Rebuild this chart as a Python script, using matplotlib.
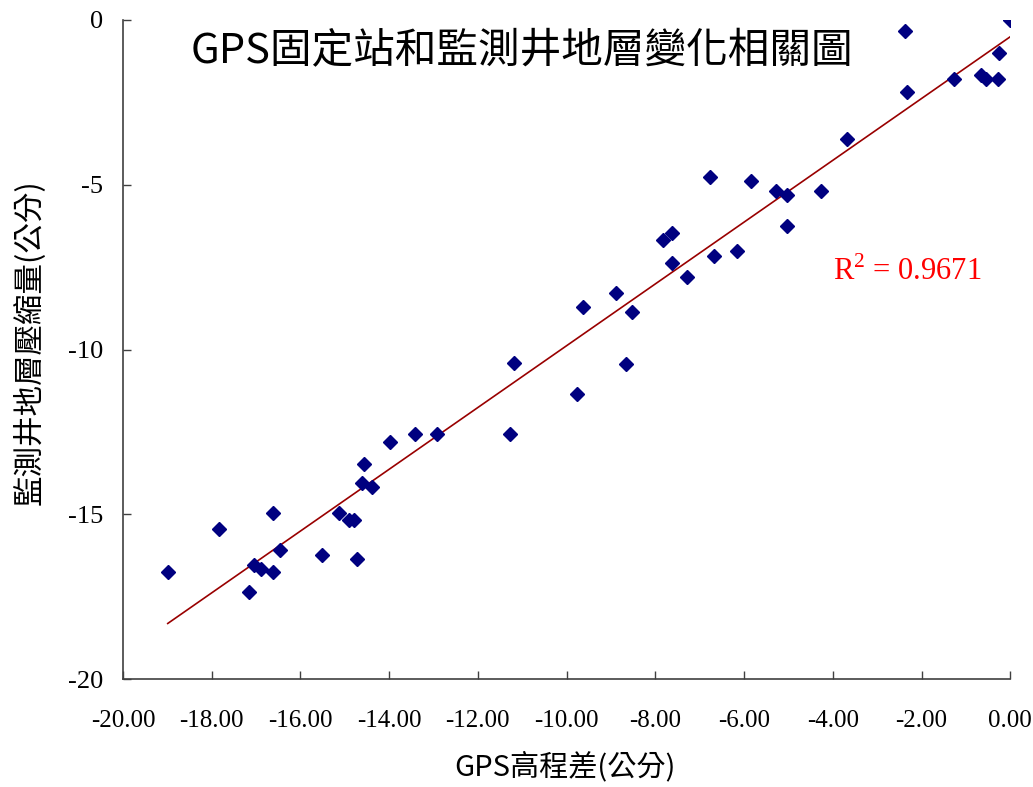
import numpy as np
import matplotlib
matplotlib.use('Agg')
import matplotlib.pyplot as plt

# GPS高程差 (公分)
gps_diff = [-18.99, -17.84, -17.16, -17.05, -16.89, -16.62, -16.62, -16.46, -15.51, -15.13,
            -14.90, -14.79, -14.72, -14.57, -14.61, -14.39, -13.98, -13.42, -12.92, -11.27,
            -11.18, -9.76, -9.63, -8.88, -8.66, -8.52, -7.82, -7.62, -7.62, -7.28,
            -6.76, -6.67, -6.16, -5.84, -5.28, -5.03, -5.03, -4.26, -3.68, -2.37,
            -2.32, -1.26, -0.65, -0.54, -0.27, -0.25, 0.00]
# 監測井地層壓縮量 (公分)
compaction = [-16.75, -15.45, -17.36, -16.54, -16.66, -14.96, -16.75, -16.08, -16.24, -14.96,
              -15.17, -15.17, -16.36, -13.47, -14.05, -14.17, -12.81, -12.56, -12.56, -12.56,
              -10.41, -11.35, -8.71, -8.29, -10.44, -8.86, -6.68, -6.46, -7.37, -7.80,
              -4.76, -7.16, -7.01, -4.89, -5.19, -5.31, -6.25, -5.19, -3.61, -0.33,
              -2.19, -1.79, -1.67, -1.79, -1.79, -1.00, 0.00]

x_ticks = [-20, -18, -16, -14, -12, -10, -8, -6, -4, -2, 0]
y_ticks = [0, -5, -10, -15, -20]

title = 'GPS固定站和監測井地層變化相關圖'
r2_text = r'R$^{\mathrm{2}}$ = 0.9671'

plt.rcParams['mathtext.fontset'] = 'custom'
plt.rcParams['mathtext.rm'] = 'Liberation Serif'

serif = ['Liberation Serif', 'DejaVu Serif']
cjk = ['Noto Sans CJK TC', 'Liberation Serif', 'DejaVu Sans']

fig = plt.figure(figsize=(10.33, 7.87), dpi=100)
ax = fig.add_axes([0.119, 0.1372, 0.859, 0.8374])

ax.plot(gps_diff, compaction, linestyle='none', marker='D', markersize=7.5,
        color='#000080', zorder=3)

# 線性趨勢線
x = np.array(gps_diff)
y = np.array(compaction)
k, b = np.polyfit(x, y, 1)
xs = np.array([x.min(), x.max()])
ax.plot(xs, k * xs + b, color='#990000', linewidth=1.2, zorder=2)

ax.set_xlim(-20, 0)
ax.set_ylim(-20, 0)
ax.set_xticks(x_ticks)
ax.set_xticklabels(['%.2f' % v for v in x_ticks], family=serif, fontsize=18)
ax.set_yticks(y_ticks)
ax.set_yticklabels([str(v) for v in y_ticks], family=serif, fontsize=19)

for s in ['top', 'right']:
    ax.spines[s].set_visible(False)
for s in ['left', 'bottom']:
    ax.spines[s].set_color('#404040')
    ax.spines[s].set_linewidth(1.2)
ax.tick_params(axis='x', direction='in', length=6, width=1, color='#404040', pad=22)
ax.tick_params(axis='y', direction='in', length=6, width=1, color='#404040', pad=14)

fig.text(0.505, 0.934, title, ha='center', va='center', fontsize=30, family=cjk)
ax.text(-4.0, -7.65, r2_text, color='#ff0000', fontsize=22, family=serif,
        ha='left', va='center')

fig.text(0.547, 0.025, 'GPS高程差(公分)', ha='center', va='center', fontsize=21, family=cjk)
fig.text(0.029, 0.565, '監測井地層壓縮量(公分)', ha='center', va='center', rotation=90,
         fontsize=22, family=cjk)

fig.savefig('out.png', dpi=100)
